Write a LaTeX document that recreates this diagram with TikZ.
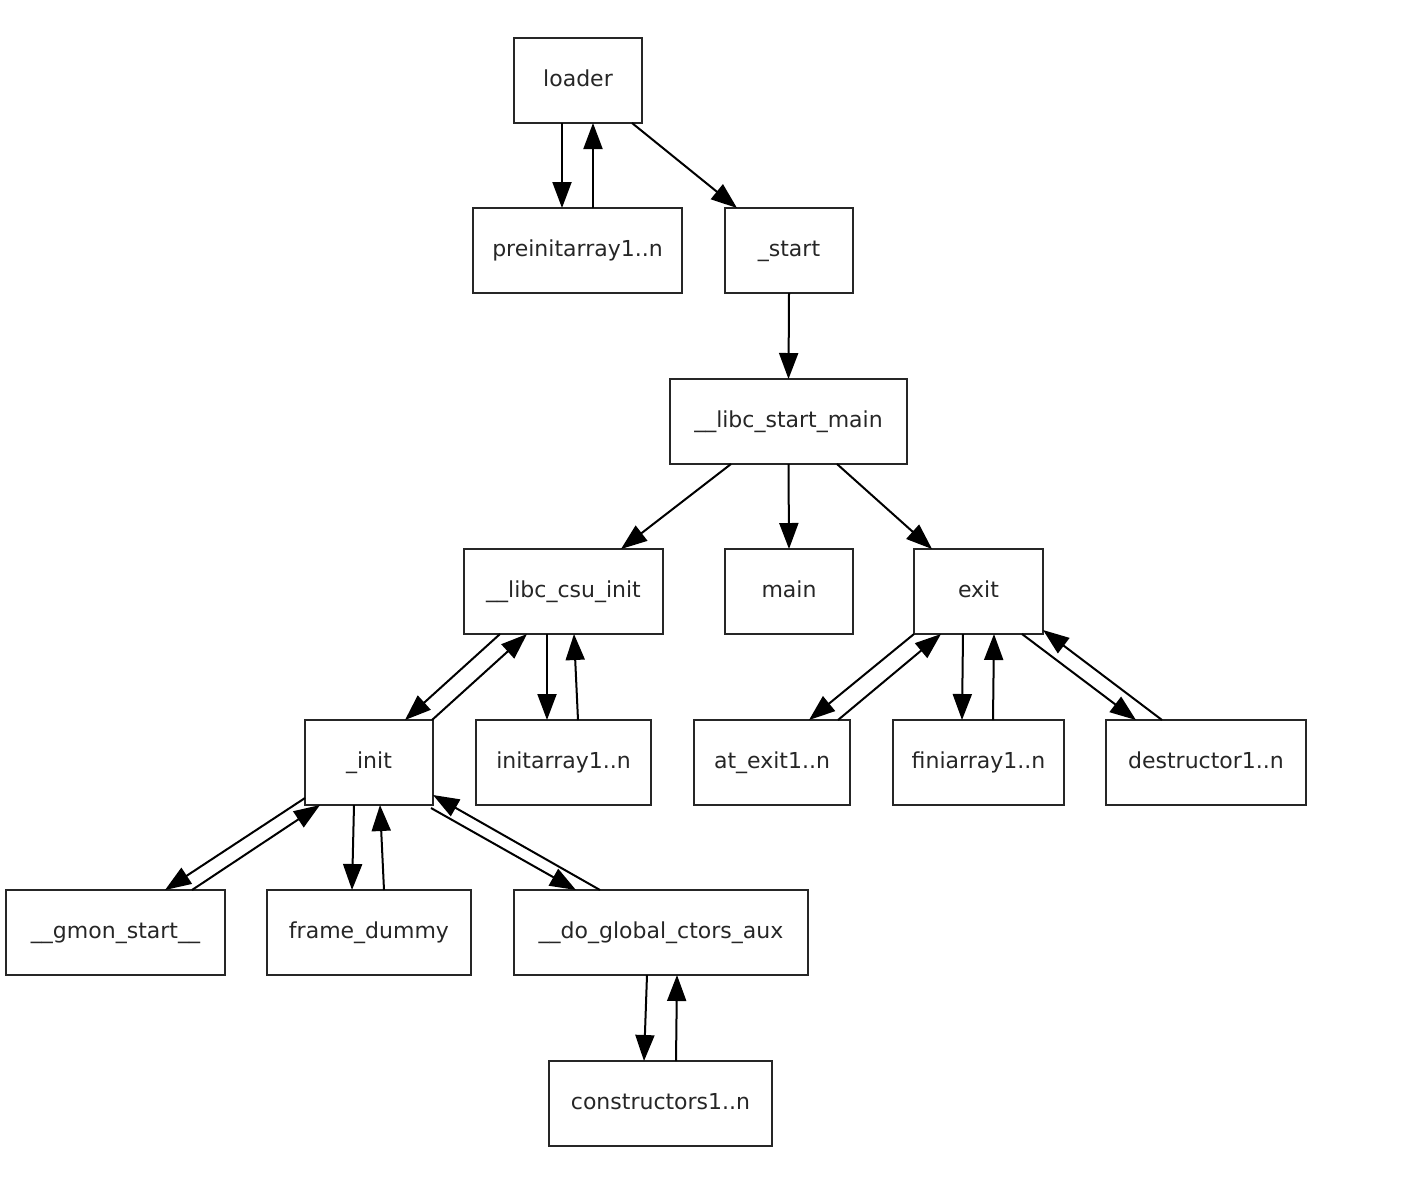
\documentclass[tikz,border=0pt]{standalone}
\usepackage{fontspec}
\setmainfont{DejaVu Sans}
\usetikzlibrary{arrows.meta}
\begin{document}
\begin{tikzpicture}[x=0.5pt,y=-0.5pt,
  box/.style={draw=black!85, line width=1pt, rectangle, minimum height=42.5pt, inner sep=0pt, outer sep=0pt, text height=8pt, text depth=2pt, font=\fontsize{11pt}{13pt}\selectfont, text=black!85},
  e/.style={draw=black, line width=1pt, -{Triangle[length=13pt,width=9.5pt]}}]
\useasboundingbox (0,0) rectangle (1424,1180);
\node[box, minimum width=64pt] (loader) at (578,80.5) {loader};
\node[box, minimum width=104.5pt] (preinit) at (577.5,250.5) {preinitarray1..n};
\node[box, minimum width=64pt] (start) at (789,250.5) {\_start};
\node[box, minimum width=118.5pt] (lsm) at (788.5,421.5) {\_\_libc\_start\_main};
\node[box, minimum width=99.5pt] (csu) at (563.5,591.5) {\_\_libc\_csu\_init};
\node[box, minimum width=64pt] (main) at (789,591.5) {main};
\node[box, minimum width=64.5pt] (exit) at (978.5,591.5) {exit};
\node[box, minimum width=64pt] (init) at (369,762.5) {\_init};
\node[box, minimum width=87.5pt] (initarray) at (563.5,762.5) {initarray1..n};
\node[box, minimum width=78pt] (atexit) at (772,762.5) {at\_exit1..n};
\node[box, minimum width=85.5pt] (fini) at (978.5,762.5) {finiarray1..n};
\node[box, minimum width=100pt] (destr) at (1206,762.5) {destructor1..n};
\node[box, minimum width=109.5pt] (gmon) at (115.5,932.5) {\_\_gmon\_start\_\_};
\node[box, minimum width=102pt] (frame) at (369,932.5) {frame\_dummy};
\node[box, minimum width=147pt] (ctors) at (661,932.5) {\_\_do\_global\_ctors\_aux};
\node[box, minimum width=111.5pt] (cons) at (660.5,1103.5) {constructors1..n};

\draw[e] ([xshift=-8pt]loader.south) -- ([xshift=-7.75pt]preinit.north);
\draw[e] ([xshift=7.75pt]preinit.north) -- ([xshift=7.5pt]loader.south);
\draw[e] ([xshift=27pt]loader.south) -- ([xshift=-26pt]start.north);
\draw[e] (start.south) -- (lsm.north);
\draw[e] ([xshift=-28.75pt]lsm.south) -- ([xshift=28.75pt]csu.north);
\draw[e] (lsm.south) -- (main.north);
\draw[e] ([xshift=24.25pt]lsm.south) -- ([xshift=-23.25pt]exit.north);
\draw[e] ([xshift=-31.75pt]csu.south) -- ([xshift=18pt]init.north);
\draw[e] ([xshift=31.5pt]init.north) -- ([xshift=-18.25pt]csu.south);
\draw[e] ([xshift=-8.25pt]csu.south) -- ([xshift=-8.25pt]initarray.north);
\draw[e] ([xshift=7.25pt]initarray.north) -- ([xshift=5.25pt]csu.south);
\draw[e] ([xshift=-32.25pt]exit.south) -- ([xshift=18.5pt]atexit.north);
\draw[e] ([xshift=33pt]atexit.north) -- ([xshift=-18.75pt]exit.south);
\draw[e] ([xshift=-7.75pt]exit.south) -- ([xshift=-8.25pt]fini.north);
\draw[e] ([xshift=7.25pt]fini.north) -- ([xshift=7.75pt]exit.south);
\draw[e] ([xshift=21.75pt]exit.south) -- ([xshift=-35pt]destr.north);
\draw[e] ([xshift=-22pt]destr.north) -- ([yshift=2pt]exit.south east);
\draw[e] ([yshift=3.5pt]init.south west) -- ([xshift=24.75pt]gmon.north);
\draw[e] ([xshift=38.25pt]gmon.north) -- ([xshift=-24.5pt]init.south);
\draw[e] ([xshift=-7.5pt]init.south) -- ([xshift=-8.5pt]frame.north);
\draw[e] ([xshift=7.5pt]frame.north) -- ([xshift=5.5pt]init.south);
\draw[e] ([xshift=-1pt,yshift=-1.5pt]init.south east) -- ([xshift=-42.5pt]ctors.north);
\draw[e] ([xshift=-30.5pt]ctors.north) -- ([yshift=5pt]init.south east);
\draw[e] ([xshift=-7pt]ctors.south) -- ([xshift=-8.25pt]cons.north);
\draw[e] ([xshift=7.75pt]cons.north) -- ([xshift=8pt]ctors.south);
\end{tikzpicture}
\end{document}
